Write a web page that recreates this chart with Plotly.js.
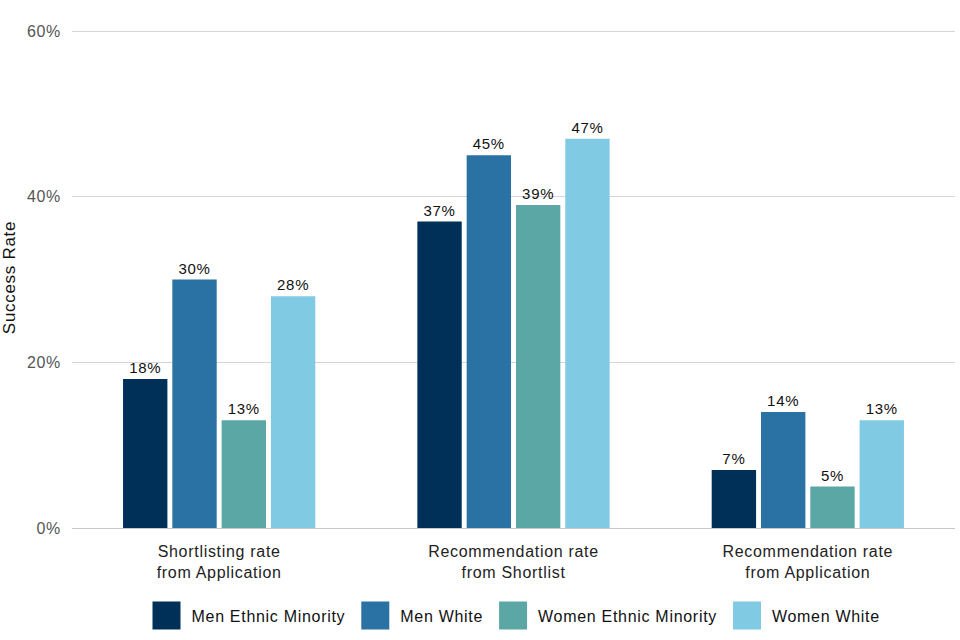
<!DOCTYPE html>
<html><head><meta charset="utf-8">
<script src="https://cdn.plot.ly/plotly-3.0.1.min.js"></script>
<style>html,body{margin:0;padding:0;background:#fff}#chart{width:960px;height:640px}text{letter-spacing:0.7px}</style>
</head><body><div id="chart"></div>
<script>
var categories = ["Shortlisting rate<br>from Application", "Recommendation rate<br>from Shortlist", "Recommendation rate<br>from Application"];
var seriesNames = ["Men Ethnic Minority", "Men White", "Women Ethnic Minority", "Women White"];
var menEthnicMinority = [18, 37, 7];
var menWhite = [30, 45, 14];
var womenEthnicMinority = [13, 39, 5];
var womenWhite = [28, 47, 13];
var colors = ["#003057", "#2a71a4", "#5ba7a5", "#80cae4"];
var seriesValues = [menEthnicMinority, menWhite, womenEthnicMinority, womenWhite];

var traces = [];
seriesValues.forEach(function(vals, i){
  traces.push({
    type: "bar", x: categories, y: vals, name: seriesNames[i],
    marker: {color: colors[i]}, showlegend: false,
    text: vals.map(function(v){return v + "%";}),
    textposition: "outside", cliponaxis: false,
    textfont: {family: "Liberation Sans, Arial, sans-serif", size: 15, color: "#111"},
    hoverinfo: "x+y"
  });
});
seriesValues.forEach(function(vals, i){
  traces.push({
    type: "scatter", mode: "markers", x: [null], y: [null], name: seriesNames[i],
    marker: {symbol: "square", size: 16, color: colors[i]}, showlegend: true
  });
});

var layout = {
  width: 960, height: 640,
  margin: {l: 72, r: 5, t: 27, b: 112},
  paper_bgcolor: "#fff", plot_bgcolor: "#fff",
  font: {family: "Liberation Sans, Arial, sans-serif", size: 16, color: "#222"},
  barmode: "group", bargap: 0.33, bargroupgap: 0.1,
  xaxis: {
    type: "category", showgrid: false, zeroline: false, showline: false,
    ticks: "", tickfont: {size: 16, color: "#222"}, ticklabelstandoff: 12
  },
  yaxis: {
    range: [0, 60.5], dtick: 20, tick0: 0, ticksuffix: "%", showgrid: true,
    gridcolor: "#d6d6d6", gridwidth: 1, zeroline: true, zerolinecolor: "#c8c8c8", zerolinewidth: 1,
    tickfont: {size: 16, color: "#555"}, ticklabelstandoff: 10,
    title: {text: "Success Rate", font: {size: 17, color: "#111"}, standoff: 12}
  },
  legend: {
    orientation: "h", x: 0.5, xanchor: "center", y: -0.175, yanchor: "middle",
    font: {size: 16, color: "#111"}, itemsizing: "trace", itemwidth: 40, traceorder: "normal"
  },
  showlegend: true
};
Plotly.newPlot("chart", traces, layout, {displayModeBar: false, staticPlot: true}).then(function(gd){
  var pts = gd.querySelectorAll(".legend .legendpoints path");
  pts.forEach(function(el){
    el.setAttribute("transform", (el.getAttribute("transform") || "") + " scale(1.75)");
  });
});
</script></body></html>
